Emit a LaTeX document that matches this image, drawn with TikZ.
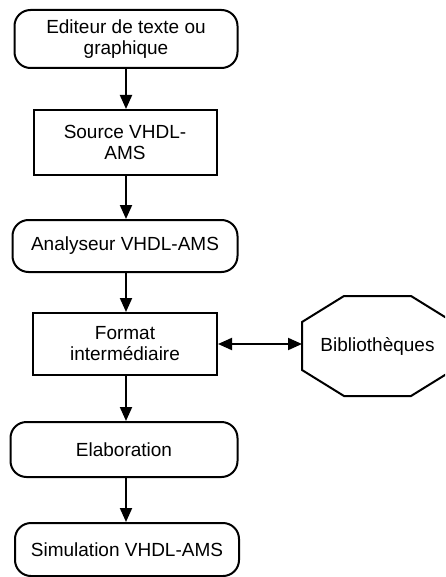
\documentclass[tikz,border=0pt]{standalone}
\usepackage{fontspec}
\setmainfont{Liberation Sans}
\usepackage{tikz}
\usetikzlibrary{arrows.meta,calc}

\begin{document}
\begin{tikzpicture}[
    x=1pt, y=-1pt,
    line width=2pt,
    every node/.style = {
      font=\fontsize{19}{21}\selectfont,
      align=center,
      inner sep=0pt
    },
    terminal/.style = {draw, rounded corners=16pt},
    process/.style = {draw, sharp corners},
    flow/.style = {-{Triangle[width=12pt,length=14pt]}}
  ]
    \useasboundingbox (0,0) rectangle (445,577);
    \clip (0,0) rectangle (445,577);
    % main chain
    \node[terminal, minimum width=223pt, minimum height=58pt] (edit) at (126,39)
      {Editeur de texte ou\\graphique};
    \node[process, minimum width=183pt, minimum height=65pt] (src) at (125,142.5)
      {Source VHDL-\\AMS};
    \node[terminal, minimum width=225pt, minimum height=52pt] (ana) at (125,246)
      {Analyseur VHDL-AMS};
    \node[process, minimum width=184pt, minimum height=62pt] (fmt) at (125,344)
      {Format\\interm\'ediaire};
    \node[terminal, minimum width=227pt, minimum height=55pt] (elab) at (124,449.5)
      {Elaboration};
    \node[terminal, minimum width=224pt, minimum height=53pt] (simu) at (127,549.5)
      {Simulation VHDL-AMS};
    % libraries
    \node[minimum width=149pt, minimum height=98pt] (bib) at (377.5,346)
      {Biblioth\`eques};
    \draw ($(bib.north west)+(42,0)$) -- ($(bib.north east)+(-42,0)$)
      -- ($(bib.north east)+(0,26)$) -- ($(bib.south east)+(0,-26)$)
      -- ($(bib.south east)+(-42,0)$) -- ($(bib.south west)+(42,0)$)
      -- ($(bib.south west)+(0,-26)$) -- ($(bib.north west)+(0,26)$) -- cycle;
    % arrows
    \draw[flow] (edit.south) -- (edit.south |- src.north);
    \draw[flow] (edit.south |- src.south) -- (edit.south |- ana.north);
    \draw[flow] (edit.south |- ana.south) -- (edit.south |- fmt.north);
    \draw[flow] (edit.south |- fmt.south) -- (edit.south |- elab.north);
    \draw[flow] (edit.south |- elab.south) -- (edit.south |- simu.north);
    \draw[{Triangle[width=12pt,length=14pt]}-{Triangle[width=12pt,length=14pt]}]
      (fmt.east) -- (fmt.east -| bib.west);
  \end{tikzpicture}
\end{document}
